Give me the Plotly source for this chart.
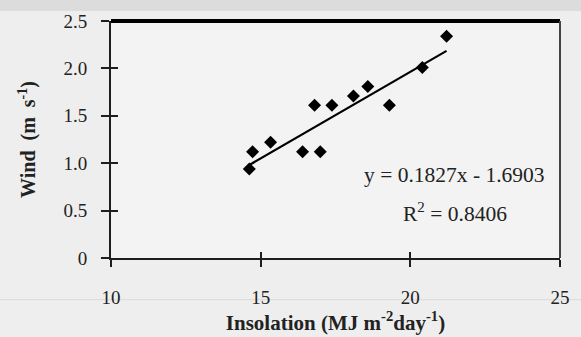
import plotly.graph_objects as go

# Data
insolation = [14.62, 14.73, 15.33, 16.40, 16.80, 16.99, 17.38, 18.10, 18.58, 19.30, 20.40, 21.21]
wind = [0.94, 1.12, 1.22, 1.12, 1.61, 1.12, 1.61, 1.71, 1.81, 1.61, 2.01, 2.34]
slope = 0.1827
intercept = -1.6903
x_ticks = [10, 15, 20, 25]
y_ticks = [0, 0.5, 1.0, 1.5, 2.0, 2.5]
y_tick_labels = ["0", "0.5", "1.0", "1.5", "2.0", "2.5"]

x_line = [min(insolation), max(insolation)]
y_line = [slope * v + intercept for v in x_line]

FONT = "Liberation Serif"
TICK = "#1e1e1e"

fig = go.Figure()
fig.add_trace(go.Scatter(x=x_line, y=y_line, mode="lines",
                         line=dict(color="black", width=2.2), showlegend=False))
fig.add_trace(go.Scatter(x=insolation, y=wind, mode="markers",
                         marker=dict(symbol="diamond", size=10, color="black"),
                         showlegend=False))
# invisible trace for the overlay axes (inner halves of the crossing ticks)
fig.add_trace(go.Scatter(x=[10], y=[0], xaxis="x2", yaxis="y2", mode="markers",
                         marker=dict(opacity=0), showlegend=False, hoverinfo="skip"))

axis_common = dict(showgrid=False, zeroline=False)

fig.update_layout(
    width=581, height=337,
    margin=dict(l=111, r=11, t=20, b=79),
    paper_bgcolor="#eeeeee",
    plot_bgcolor="#f3f3f3",
    font=dict(family=FONT, color="#222222", size=19),
    xaxis=dict(range=[10, 25], tickvals=x_ticks, ticks="outside", ticklen=7,
               tickcolor=TICK, tickwidth=2, ticklabelstandoff=14,
               showline=True, linecolor=TICK, linewidth=2, mirror=False,
               title=dict(text="<b>Insolation (MJ m<sup>-2</sup>day<sup>-1</sup>)</b>",
                          font=dict(size=21), standoff=2),
               tickfont=dict(size=19), **axis_common),
    yaxis=dict(range=[0, 2.5], tickvals=y_ticks, ticktext=y_tick_labels,
               ticks="outside", ticklen=8, tickcolor=TICK, tickwidth=2,
               ticklabelstandoff=10,
               showline=True, linecolor=TICK, linewidth=2, mirror=False,
               title=dict(text="<b>Wind  (m  s<sup>-1</sup>)</b>", font=dict(size=20), standoff=22),
               tickfont=dict(size=19), **axis_common),
    xaxis2=dict(range=[10, 25], overlaying="x", anchor="y2", tickvals=x_ticks,
                ticks="inside", ticklen=6, tickcolor=TICK, tickwidth=2,
                showticklabels=False, showline=False, **axis_common),
    yaxis2=dict(range=[0, 2.5], overlaying="y", anchor="x2", side="left", tickvals=y_ticks,
                ticks="inside", ticklen=7, tickcolor=TICK, tickwidth=2,
                showticklabels=False, showline=False, **axis_common),
    shapes=[
        dict(type="rect", xref="paper", yref="paper", x0=-0.3, x1=1.1, y0=1.042, y1=1.09,
             fillcolor="#dcdcdc", line=dict(width=0), layer="below"),
        dict(type="line", xref="paper", yref="paper", x0=-0.25, x1=1.05, y0=-0.176, y1=-0.176,
             line=dict(color="#dadada", width=1), layer="below"),
        dict(type="line", xref="paper", yref="paper", x0=0, x1=1, y0=1, y1=1,
             line=dict(color="black", width=4)),
        dict(type="line", xref="paper", yref="paper", x0=1, x1=1, y0=0, y1=1,
             line=dict(color="#444444", width=2)),
    ],
    annotations=[
        dict(x=0.765, y=0.349, xref="paper", yref="paper", showarrow=False,
             xanchor="center", yanchor="middle",
             text="y = 0.1827x - 1.6903", font=dict(size=21.5, family=FONT)),
        dict(x=0.767, y=0.193, xref="paper", yref="paper", showarrow=False,
             xanchor="center", yanchor="middle",
             text="R<sup>2</sup> = 0.8406", font=dict(size=21.5, family=FONT)),
    ],
)

fig.write_html("out.html")
